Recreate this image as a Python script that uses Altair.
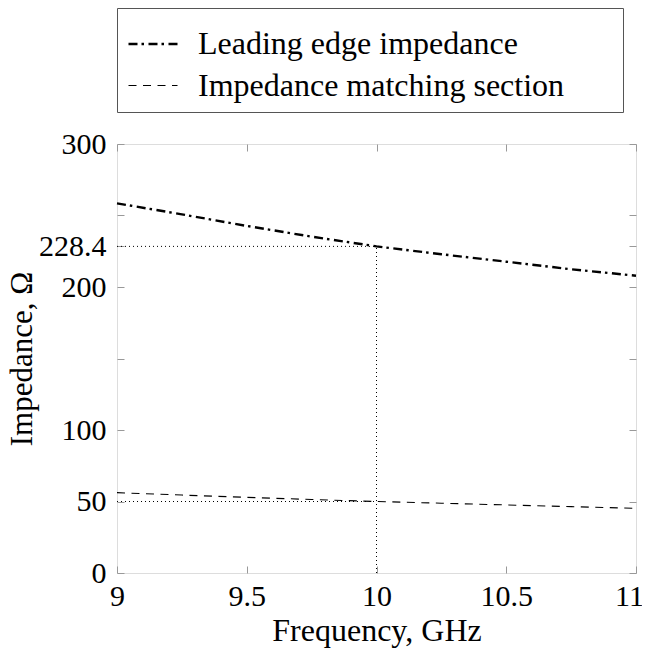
import altair as alt
import pandas as pd

# ---- data ----
freq = [9.0, 9.25, 9.5, 9.75, 10.0, 10.25, 10.5, 10.75, 11.0]
leading_edge = [258.5, 250.8, 242.7, 235.2, 228.4, 222.9, 217.7, 212.4, 207.9]
matching = [56.2, 54.5, 52.9, 51.4, 50.0, 48.8, 47.6, 46.4, 45.2]
series_names = ["Leading edge impedance", "Impedance matching section"]

y_label_values = [0, 50, 100, 200, 228.4, 300]
y_tick_values = [0, 50, 100, 150, 200, 228.4, 250, 300]
x_tick_values = [9, 9.5, 10, 10.5, 11]

# reference (dotted) lines
href_y = [228.4, 50]
href_x0 = [9, 9]
href_x1 = [10, 10]
vref_x = [10]
vref_y0 = [0]
vref_y1 = [228.4]

FONT = "Liberation Serif, Times New Roman, Times, DejaVu Serif, serif"
W, H = 519, 429

lines_df = pd.DataFrame({
    "f": freq * 2,
    "z": leading_edge + matching,
    "series": [series_names[0]] * len(freq) + [series_names[1]] * len(freq),
})
href_df = pd.DataFrame({"x": href_x0, "x2": href_x1, "y": href_y})
vref_df = pd.DataFrame({"x": vref_x, "y": vref_y0, "y2": vref_y1})

xscale = alt.Scale(domain=[9, 11], nice=False, zero=False)
yscale = alt.Scale(domain=[0, 300], nice=False)

tick_axis = dict(labels=False, domain=False, grid=False, title=None,
                 ticks=True, tickSize=7, tickColor="#999999", tickWidth=1)

lines = alt.Chart(lines_df).mark_line(color="black").encode(
    x=alt.X("f:Q", scale=xscale,
            axis=alt.Axis(orient="bottom", values=x_tick_values,
                          labelExpr="toString(datum.value)",
                          labelOffset={"expr": "datum.value == 11 ? -7 : 0"},
                          ticks=False, domain=False, grid=False,
                          labelFont=FONT, labelFontSize=30, labelColor="black",
                          labelPadding=8, labelFlush=False,
                          title="Frequency, GHz", titleFont=FONT, titleFontSize=32,
                          titleFontWeight="normal", titleColor="black", titlePadding=4)),
    y=alt.Y("z:Q", scale=yscale,
            axis=alt.Axis(orient="left", values=y_label_values,
                          labelExpr="toString(datum.value)",
                          ticks=False, domain=False, grid=False,
                          labelFont=FONT, labelFontSize=30, labelColor="black",
                          labelPadding=11, labelFlush=False,
                          title="Impedance, Ω", titleFont=FONT, titleFontSize=31,
                          titleFontWeight="normal", titleColor="black", titlePadding=0)),
    strokeDash=alt.StrokeDash(
        "series:N",
        scale=alt.Scale(domain=series_names, range=[[9, 4, 2.5, 4.5], [8, 6.5]]),
        sort=series_names,
        legend=alt.Legend(
            title=None, orient="none", legendX=0, legendY=-136,
            strokeColor="#555555", fillColor="white", padding=10,
            rowPadding=-14, symbolType="stroke", symbolSize=2401,
            symbolStrokeWidth=1, symbolStrokeColor="black",
            labelFont=FONT, labelFontSize=32, labelColor="black",
            labelOffset=19, labelLimit=1000,
            labelExpr="datum.label + '\u00a0\u00a0\u00a0\u00a0\u00a0\u00a0\u200b'",
        ),
    ),
    strokeWidth=alt.StrokeWidth(
        "series:N",
        scale=alt.Scale(domain=series_names, range=[2.4, 1.1]),
        legend=None,
    ),
)

hrules = alt.Chart(href_df).mark_rule(color="black", strokeWidth=1, strokeDash=[1, 3]).encode(
    x=alt.X("x:Q", scale=xscale,
            axis=alt.Axis(orient="top", offset=-H, values=x_tick_values, **tick_axis)),
    x2="x2:Q",
    y=alt.Y("y:Q", scale=yscale,
            axis=alt.Axis(orient="right", offset=-W, values=y_tick_values, **tick_axis)),
)

vrules = alt.Chart(vref_df).mark_rule(color="black", strokeWidth=1, strokeDash=[1, 3]).encode(
    x=alt.X("x:Q", scale=xscale,
            axis=alt.Axis(orient="bottom", offset=-H, values=x_tick_values, **tick_axis)),
    y=alt.Y("y:Q", scale=yscale,
            axis=alt.Axis(orient="left", offset=-W, values=y_tick_values, **tick_axis)),
    y2="y2:Q",
)

chart = alt.layer(hrules, vrules, lines).resolve_scale(
    x="shared", y="shared"
).resolve_axis(
    x="independent", y="independent"
).properties(
    width=W, height=H,
    autosize=alt.AutoSizeParams(type="none"),
    padding={"left": 109, "top": 136, "right": 6, "bottom": 75},
).configure_view(
    stroke="#222222", strokeWidth=1.3
).configure(background="white")

chart.save("out.html", embed_options={"renderer": "svg", "actions": False})
